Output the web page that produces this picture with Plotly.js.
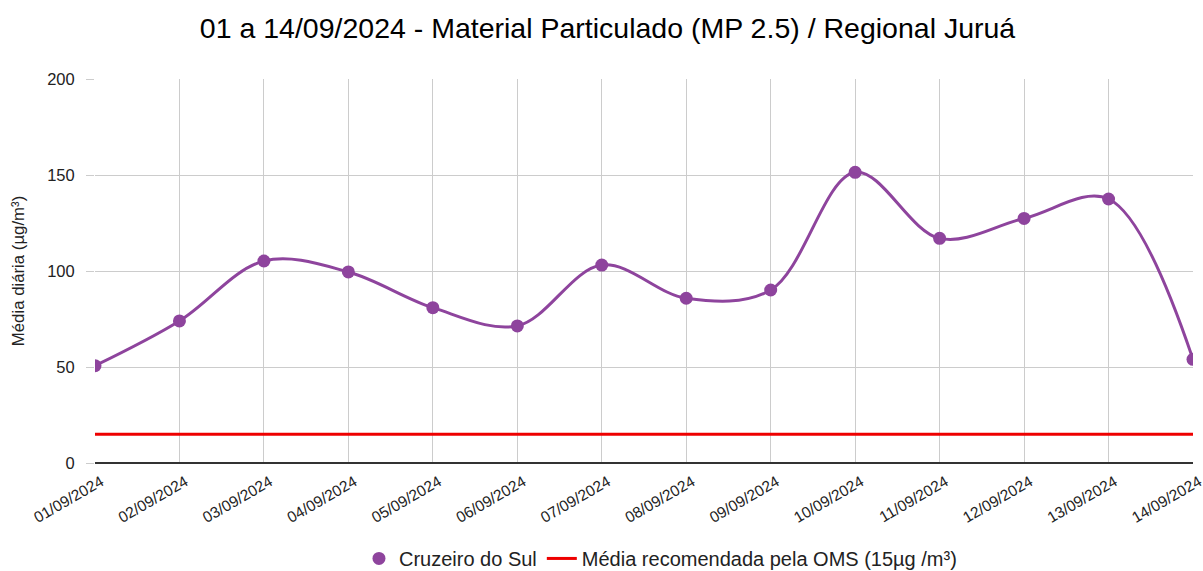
<!DOCTYPE html>
<html>
<head>
<meta charset="utf-8">
<script src="https://cdn.plot.ly/plotly-3.0.1.min.js"></script>
<style>html,body{margin:0;padding:0;background:#fff;}#chart{width:1203px;height:571px;}</style>
</head>
<body>
<div id="chart"></div>
<script>
const dates = ["01/09/2024","02/09/2024","03/09/2024","04/09/2024","05/09/2024","06/09/2024","07/09/2024","08/09/2024","09/09/2024","10/09/2024","11/09/2024","12/09/2024","13/09/2024","14/09/2024"];
const cruzeiroDoSul = [50.7, 74, 105.2, 99.5, 80.9, 71.4, 103.1, 85.8, 90.1, 151.4, 117, 127.4, 137.5, 54];
const omsReference = [15, 15, 15, 15, 15, 15, 15, 15, 15, 15, 15, 15, 15, 15];
const purple = "#8E449D";
const font = "Liberation Sans, Arial, sans-serif";

const traces = [
  {x: dates, y: omsReference, type: "scatter", mode: "lines", name: "Média recomendada pela OMS (15µg /m³)",
   line: {color: "#EE0000", width: 3}, legendrank: 2},
  {x: dates, y: cruzeiroDoSul, type: "scatter", mode: "lines", showlegend: false,
   line: {color: purple, width: 3, shape: "spline", smoothing: 1.0}},
  {x: dates, y: cruzeiroDoSul, type: "scatter", mode: "markers", name: "Cruzeiro do Sul",
   marker: {color: purple, size: 13}, legendrank: 1}
];

const layout = {
  width: 1203, height: 571,
  margin: {l: 95, r: 10, t: 79, b: 108},
  paper_bgcolor: "#fff", plot_bgcolor: "#fff",
  font: {family: font, color: "#222", size: 14},
  title: {text: "01 a 14/09/2024 - Material Particulado (MP 2.5) / Regional Juruá",
          font: {family: font, size: 28.5, color: "#000"}, x: 0.505, xanchor: "center",
          y: 0.951, yanchor: "middle"},
  xaxis: {type: "category", range: [0, 13], automargin: false, showgrid: true, gridcolor: "#cccccc", gridwidth: 1,
          tickangle: -30, tickfont: {size: 15.5, color: "#222"}, ticks: "", ticklabelshift: 6, ticklabelstandoff: 6,
          showline: false, zeroline: false, fixedrange: true},
  yaxis: {range: [0, 200], tickvals: [0, 50, 100, 150, 200], automargin: false, showgrid: true, gridcolor: "#cccccc", gridwidth: 1,
          zeroline: true, zerolinecolor: "#333", zerolinewidth: 1.5,
          ticks: "outside", ticklen: 8, tickcolor: "#cccccc", ticklabelstandoff: 8,
          tickfont: {size: 16.5, color: "#222"},
          title: {text: "Média diária (µg/m³)", font: {size: 16.8, color: "#222"}, standoff: 18}, fixedrange: true},
  legend: {orientation: "h", x: 0.515, xanchor: "center", xref: "paper", yref: "container", y: 0.022, yanchor: "middle",
           font: {size: 20, color: "#222"}, traceorder: "normal", itemwidth: 30},
  showlegend: true
};

Plotly.newPlot("chart", traces, layout, {displayModeBar: false, staticPlot: true});
</script>
</body>
</html>
